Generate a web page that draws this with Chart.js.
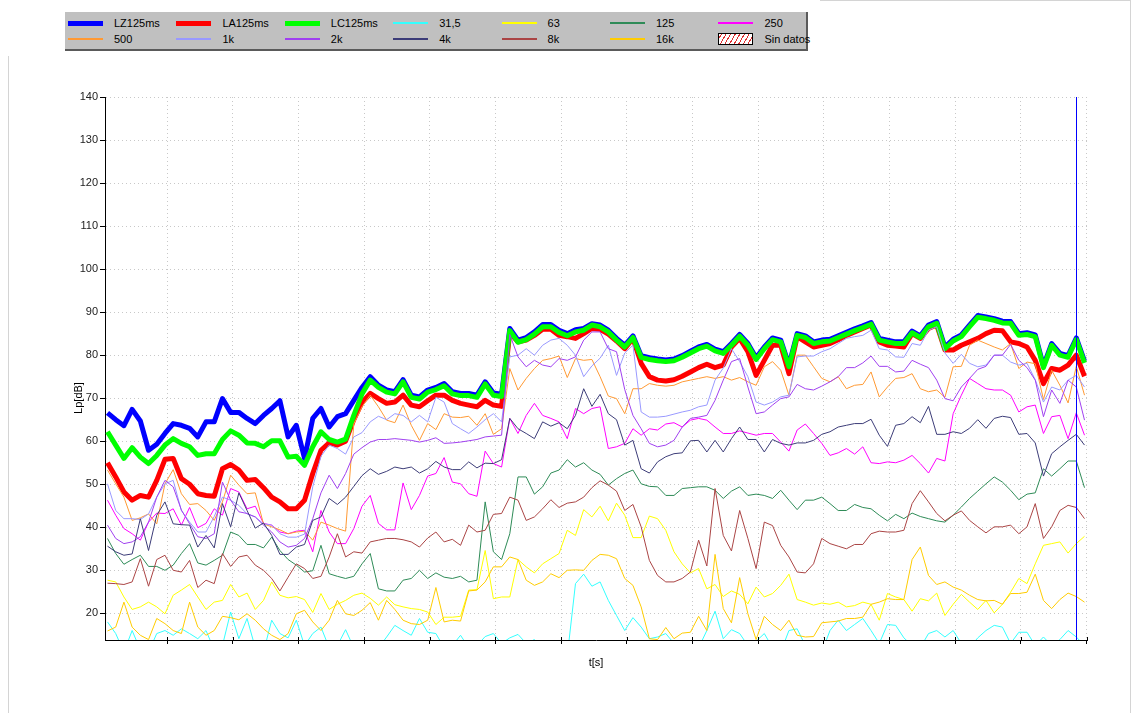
<!DOCTYPE html>
<html>
<head>
<meta charset="utf-8">
<script src="https://cdn.jsdelivr.net/npm/chart.js@4.4.0/dist/chart.umd.min.js"></script>
<style>
  html, body { margin: 0; padding: 0; background: #fff; }
  #wrap { position: relative; width: 1131px; height: 713px; overflow: hidden; }
  #chart { position: absolute; left: 0; top: 0; }
  #frame {
    position: absolute; left: 8px; top: 0; width: 1121px; height: 740px;
    border-left: 1px solid #d4d4d4; border-right: 1px solid #d4d4d4; border-top: 1px solid #d4d4d4;
  }
  #legend {
    position: absolute; left: 65px; top: 12px; width: 741px; height: 37px;
    background: #c0c0c0; border-right: 2px solid #5a5a5a; border-bottom: 2px solid #5a5a5a;
    font: 11px "Liberation Sans", Arial, sans-serif; color: #000;
  }
  #legendBack { position: absolute; left: 0; top: 0; width: 820px; height: 56px; background: #fff; }
  .item { position: absolute; height: 14px; width: 105px; }
  .sw { position: absolute; left: 0; width: 35px; }
  .lbl { position: absolute; left: 46px; top: 0; line-height: 14px; white-space: nowrap; }
  .nodata {
    position: absolute; left: 0; top: 1px; width: 33px; height: 10px; border: 1px solid #000;
    background: repeating-linear-gradient(-60deg, #fff 0 3px, #e03030 3px 4px);
  }
</style>
</head>
<body>
<div id="wrap">
  <canvas id="chart" width="1131" height="713"></canvas>
  <div id="frame"></div>
  <div id="legendBack"></div>
  <div id="legend"></div>
</div>
<script>
// 125 ms samples, levels in dB
const SAMPLE_S = 0.125;
const cursorIndex = 118;

const lz = [66.6, 65.0, 63.6, 67.4, 64.7, 57.9, 59.3, 61.8, 64.1, 63.7, 63.0, 61.0, 64.5, 64.5, 69.9, 66.7, 66.7, 65.3, 64.1, 66.0, 67.6, 69.4, 61.0, 63.7, 56.0, 65.3, 67.6, 63.3, 65.7, 66.4,
  69.5, 72.5, 75.0, 73.0, 71.9, 71.5, 74.3, 70.7, 70.3, 71.9, 72.5, 73.4, 71.5, 71.1, 71.1, 70.7, 73.8, 71.2, 70.9,
  86.2, 83.5, 84.1, 85.4, 87.1, 87.1, 85.8, 85.0, 85.9, 86.2, 87.3, 87.0,
  85.8, 83.9, 82.3, 84.5, 79.9, 79.4, 79.1, 78.9, 79.1, 79.9, 80.9, 81.9, 82.5, 81.4, 80.8, 82.7, 84.8, 82.7, 79.4, 81.9, 84.0, 83.5, 77.7, 85.0, 84.5, 83.1, 83.5, 83.7, 84.5,
  85.3, 86.1, 86.8, 87.6, 83.9, 83.5, 83.1, 83.1, 85.6, 84.5, 87.0, 87.8, 81.9, 83.7, 84.7, 87.0, 89.2, 88.9, 88.5, 87.9, 87.8, 85.0, 85.2, 84.7, 77.5, 82.7, 80.4, 79.9, 84.0, 78.6];

const la = [55.0, 51.7, 48.2, 46.3, 47.4, 47.0, 50.9, 55.8, 56.0, 51.3, 50.0, 47.8, 47.4, 47.2, 53.6, 54.6, 53.3, 50.9, 51.1, 49.2, 47.0, 45.9, 44.3, 44.3, 46.3, 52.5, 57.9, 59.6, 59.1, 60.0,
  65.0, 69.0, 71.1, 69.9, 68.8, 69.1, 70.7, 68.4, 68.0, 69.4, 70.7, 70.7, 69.5, 68.8, 68.4, 68.0, 69.5, 68.4, 68.1,
  85.2, 83.1, 83.5, 84.6, 86.0, 86.0, 84.6, 84.3, 83.9,
  85.0, 86.2, 86.0, 84.9, 83.3, 81.5, 83.9, 78.1, 75.0, 74.2, 74.0, 74.3, 75.1, 76.1, 77.1, 77.9, 77.1, 77.7, 81.9, 83.9, 80.8, 75.3, 78.8, 82.3, 82.3, 75.7, 84.3, 83.1, 81.9, 82.3, 82.7, 83.6,
  84.6, 85.4, 86.2, 87.0, 83.1, 82.3, 82.1, 81.9, 85.0, 83.9, 86.2, 87.0, 81.2, 81.2, 82.3, 83.1, 83.9, 85.0, 85.8, 85.7, 83.1, 82.7, 81.9, 78.8, 73.4, 76.9, 76.5, 77.7, 80.0, 75.1];

const lc = [62.2, 59.1, 56.0, 58.5, 56.3, 54.8, 56.7, 59.1, 60.6, 59.5, 58.7, 56.7, 57.1, 57.1, 60.4, 62.4, 61.4, 59.6, 59.5, 58.7, 60.1, 60.1, 56.3, 56.5, 54.4, 58.7, 62.2, 60.4, 59.8, 60.5,
  66.0, 71.0, 74.2, 72.5, 71.4, 71.0, 73.8, 70.2, 69.8, 71.4, 72.0, 72.9, 71.0, 70.6, 70.6, 70.2, 73.3, 70.7, 70.4,
  85.7, 83.0, 83.6, 84.9, 86.6, 86.6, 85.3, 84.5, 85.4, 85.8, 87.0, 86.6,
  85.4, 83.5, 81.9, 84.1, 79.5, 79.0, 78.7, 78.5, 78.7, 79.5, 80.5, 81.5, 82.1, 81.0, 80.4, 82.3, 84.4, 82.3, 79.0, 81.5, 83.6, 83.1, 77.3, 84.6, 84.1, 82.7, 83.1, 83.3, 84.1,
  84.9, 85.7, 86.4, 87.2, 83.5, 83.1, 82.7, 82.7, 85.2, 84.1, 86.6, 87.4, 81.5, 83.3, 84.3, 86.6, 88.8, 88.5, 88.1, 87.5, 87.4, 84.6, 84.8, 84.3, 77.1, 82.3, 80.0, 79.5, 83.6, 78.2];

const b31_5 = [18.0, 15.3, 11.0, 16.0, 11.5, 11.0, 15.3, 16.0, 14.9, 16.4, 15.3, 14.1, 16.0, 11.5, 12.5, 20.3, 14.1, 18.8, 12.0, 11.0, 18.4, 15.3, 14.3, 18.4, 12.5, 15.3, 16.8, 12.0, 12.5, 16.2,
  12.0, 11.5, 11.5, 12.0, 14.5, 17.2, 16.0, 14.9, 18.8, 15.6, 15.3, 12.0, 12.5, 14.9, 12.0, 12.5, 14.6, 15.3, 13.0, 14.3, 15.1, 13.0, 13.9, 11.0, 10.0, 10.0, 10.0, 26.9, 29.1, 26.3,
  27.3, 23.0, 19.5, 16.0, 19.0, 16.8, 14.1, 14.5, 15.3, 13.0, 11.5, 11.0, 12.0, 16.0, 20.5, 14.1, 16.2, 15.3, 12.5, 13.5, 15.3, 12.0, 11.0, 16.0, 16.4, 12.5, 11.5, 11.0, 16.0, 18.4,
  16.0, 17.4, 18.8, 16.0, 13.0, 17.4, 17.2, 14.3, 12.5, 12.0, 15.3, 16.0, 14.5, 16.0, 13.0, 12.0, 14.3, 16.0, 17.2, 16.8, 13.0, 15.6, 15.6, 12.5, 14.5, 12.5, 13.9, 16.0, 14.5, 12.5];

const b63 = [27.7, 27.3, 23.8, 20.9, 21.5, 22.6, 21.5, 19.9, 24.2, 25.4, 26.7, 23.8, 20.9, 22.6, 23.0, 26.7, 23.8, 24.7, 20.9, 23.0, 27.3, 24.2, 23.6, 23.9, 23.2, 20.2, 24.6, 20.9, 22.1, 23.0,
  24.2, 24.7, 23.5, 21.9, 23.8, 22.0, 21.5, 21.1, 20.9, 20.3, 17.4, 19.1, 19.1, 19.3, 25.4, 25.5, 34.6, 23.4, 23.8, 23.8, 32.5, 30.8, 29.4, 31.5, 32.7, 33.9, 39.3, 38.1, 44.1, 42.4,
  44.9, 41.5, 45.6, 42.8, 37.6, 37.6, 42.6, 42.0, 39.3, 34.3, 31.5, 29.4, 30.4, 25.7, 26.7, 23.9, 25.2, 24.4, 22.2, 26.1, 23.8, 24.6, 26.5, 29.1, 23.2, 22.6, 21.9, 22.4, 22.1, 22.6,
  21.5, 21.8, 22.6, 22.1, 18.4, 24.6, 23.8, 23.2, 20.5, 23.4, 22.9, 24.7, 19.5, 22.1, 24.4, 22.6, 20.9, 23.0, 20.1, 22.1, 24.9, 28.1, 26.9, 31.5, 35.8, 36.2, 36.6, 34.0, 36.2, 37.9];

const b125 = [37.4, 33.9, 31.4, 32.5, 33.5, 30.9, 30.9, 30.0, 31.2, 33.9, 36.2, 31.7, 31.2, 32.3, 33.5, 38.9, 38.1, 36.0, 36.0, 35.2, 37.7, 34.6, 32.5, 31.2, 29.6, 29.9, 35.8, 29.2, 28.6, 28.1,
  28.6, 31.5, 33.9, 25.7, 25.2, 25.2, 27.7, 28.1, 30.0, 28.1, 29.4, 28.4, 28.1, 28.6, 27.3, 27.7, 45.9, 34.3, 32.5, 38.5, 51.7, 51.7, 47.7, 49.4, 52.6, 53.3, 55.7, 54.0, 55.0, 53.3,
  52.3, 49.8, 51.3, 52.5, 53.3, 50.1, 49.5, 49.4, 47.4, 47.4, 49.0, 49.2, 49.4, 49.4, 48.6, 46.7, 48.4, 49.4, 47.4, 47.7, 47.4, 46.7, 48.6, 46.3, 44.1, 46.3, 46.3, 47.0, 45.5, 43.9,
  43.9, 45.3, 44.6, 44.3, 42.8, 41.5, 43.0, 42.0, 43.3, 42.5, 42.0, 41.5, 41.2, 42.8, 44.7, 46.7, 48.4, 50.1, 51.7, 50.5, 48.6, 46.4, 47.7, 48.0, 53.6, 51.9, 53.6, 55.4, 55.4, 49.2];

const b250 = [46.3, 42.8, 39.7, 38.5, 37.0, 41.2, 43.3, 43.2, 44.3, 40.5, 44.6, 39.9, 40.9, 44.3, 42.8, 49.0, 48.2, 44.3, 44.9, 40.9, 40.5, 38.9, 38.5, 39.1, 39.3, 34.3, 43.9, 38.9, 36.2, 36.2,
  39.7, 44.9, 47.4, 40.9, 39.4, 39.4, 50.3, 44.1, 47.4, 51.9, 52.5, 56.2, 50.5, 50.1, 47.8, 47.2, 57.7, 54.8, 54.0, 65.3, 61.8, 66.0, 68.8, 66.0, 65.3, 64.5, 60.6, 67.6, 66.4, 67.6,
  68.0, 58.3, 58.7, 59.5, 62.9, 61.4, 62.9, 62.6, 64.0, 64.3, 63.3, 64.9, 65.3, 64.9, 63.3, 61.8, 61.8, 62.4, 61.9, 61.4, 61.8, 61.8, 59.8, 57.7, 62.6, 64.0, 61.8, 59.5, 56.7, 57.3,
  58.3, 57.0, 58.7, 55.0, 54.8, 55.2, 55.0, 55.6, 56.7, 54.8, 52.6, 56.0, 55.4, 66.4, 70.7, 74.6, 73.4, 72.2, 71.9, 71.9, 70.7, 66.8, 68.0, 68.4, 61.8, 65.7, 66.0, 60.6, 66.6, 61.4];

const b500 = [53.3, 50.1, 47.0, 41.6, 42.2, 43.1, 40.8, 50.1, 53.4, 47.8, 45.3, 45.5, 43.9, 41.6, 45.9, 52.1, 49.8, 47.8, 48.0, 40.8, 40.1, 39.4, 38.5, 38.9, 39.1, 37.0, 41.2, 40.5, 39.7, 39.1,
  64.0, 68.0, 70.7, 68.0, 64.9, 64.3, 68.4, 63.7, 60.2, 64.1, 62.7, 66.4, 65.6, 65.5, 65.8, 63.7, 66.4, 61.6, 62.9, 76.9, 71.9, 74.6, 76.9, 78.8, 79.2, 79.8, 74.8, 79.2, 78.8, 79.0, 75.0,
  70.5, 69.9, 66.4, 72.2, 72.2, 73.4, 73.0, 72.8, 73.0, 73.8, 74.2, 74.6, 75.0, 74.6, 75.0, 74.2, 74.8, 73.8, 73.0, 77.3, 78.5, 76.5, 70.7, 80.0, 80.0, 77.3, 74.6, 73.8, 75.0,
  72.2, 73.0, 73.2, 76.1, 70.3, 72.6, 74.6, 74.8, 75.7, 72.2, 71.5, 71.9, 70.2, 77.3, 77.4, 82.3, 83.5, 82.7, 81.9, 81.2, 82.7, 76.9, 78.4, 78.0, 69.7, 76.5, 73.0, 68.9, 77.4, 70.7];

const b1k = [50.1, 43.9, 42.0, 42.0, 41.8, 43.1, 47.0, 50.1, 50.9, 43.9, 41.2, 38.9, 38.9, 42.5, 47.0, 46.3, 45.1, 43.1, 42.4, 40.8, 40.5, 38.5, 37.7, 37.7, 38.4, 49.4, 56.5, 59.1, 58.3, 57.0,
  61.0, 62.0, 64.5, 65.8, 65.0, 66.4, 66.0, 64.5, 66.0, 64.5, 70.2, 69.1, 64.1, 62.9, 61.8, 63.3, 65.0, 66.4, 64.5, 79.6, 80.0, 81.5, 80.0, 82.3, 83.5, 83.9, 82.3, 80.0, 75.0, 77.5, 79.3,
  82.3, 75.3, 80.5, 82.3, 66.8, 65.6, 65.6, 65.8, 66.3, 66.8, 67.2, 68.0, 68.4, 74.2, 77.0, 81.5, 78.5, 75.0, 69.1, 68.4, 69.1, 70.3, 70.7, 79.6, 79.8, 79.8, 80.8, 81.5, 82.7,
  83.9, 84.3, 84.6, 85.8, 81.5, 81.2, 79.6, 79.5, 82.7, 82.3, 85.8, 86.6, 80.5, 78.1, 80.2, 78.1, 77.3, 77.7, 80.0, 80.0, 78.4, 77.7, 78.1, 74.3, 69.1, 72.6, 71.9, 74.2, 75.3, 72.6];

const b2k = [40.5, 37.4, 36.2, 36.6, 37.8, 41.2, 47.0, 50.9, 49.4, 44.0, 40.8, 37.8, 37.4, 38.5, 50.5, 46.3, 43.6, 43.2, 42.4, 40.5, 38.9, 36.6, 35.4, 35.8, 37.4, 42.0, 48.0, 52.1, 49.0, 52.5,
  57.0, 58.5, 59.8, 60.4, 60.4, 60.6, 60.4, 60.2, 59.8, 60.2, 60.8, 59.5, 59.6, 59.8, 60.1, 60.4, 61.0, 61.2, 61.4, 84.8, 79.6, 77.3, 78.8, 77.7, 77.3, 79.2, 78.8, 79.6, 83.5, 85.4, 85.4,
  81.5, 80.8, 72.0, 66.0, 62.9, 59.5, 58.7, 59.1, 60.2, 63.3, 65.3, 65.6, 66.0, 69.5, 74.2, 78.5, 79.2, 72.6, 66.4, 66.8, 68.4, 69.9, 70.3, 73.2, 72.2, 71.9, 72.8, 73.8, 75.0,
  77.1, 77.1, 78.2, 79.8, 77.4, 77.4, 76.1, 76.3, 78.8, 77.9, 77.1, 74.2, 69.9, 69.4, 72.6, 74.6, 76.7, 77.4, 80.0, 80.0, 82.5, 78.8, 77.1, 74.2, 65.7, 71.9, 68.8, 74.2, 72.6, 64.9];

const b4k = [35.6, 34.3, 33.5, 33.8, 42.0, 34.6, 42.8, 45.9, 40.8, 40.6, 40.5, 35.4, 38.1, 35.2, 45.5, 40.1, 48.0, 43.9, 39.8, 41.0, 38.1, 33.7, 33.7, 35.4, 36.0, 41.6, 42.4, 46.7, 45.3, 47.0,
  49.5, 52.0, 53.6, 52.3, 53.0, 54.0, 53.6, 54.0, 52.6, 53.6, 55.3, 54.0, 53.4, 53.4, 55.2, 53.8, 54.9, 54.8, 55.7, 65.3, 62.9, 61.8, 60.6, 64.5, 63.5, 64.3, 62.9, 66.0, 72.2, 68.1, 70.9,
  66.4, 65.0, 59.1, 60.2, 53.6, 52.6, 55.2, 56.4, 57.1, 57.3, 60.1, 60.2, 57.5, 60.2, 57.5, 60.6, 63.3, 60.4, 60.4, 57.5, 60.4, 59.5, 59.1, 59.6, 59.6, 60.2, 61.6, 62.2, 63.3,
  63.7, 64.1, 64.1, 65.1, 61.4, 58.8, 63.7, 64.1, 65.7, 64.3, 68.1, 61.6, 61.6, 62.2, 61.8, 63.0, 65.0, 63.0, 65.3, 65.8, 65.5, 61.6, 61.8, 59.6, 51.9, 57.1, 58.7, 60.2, 61.6, 59.1];

const b8k = [27.0, 26.9, 26.7, 27.3, 32.7, 26.3, 32.5, 33.5, 30.0, 29.6, 32.3, 26.0, 27.7, 26.9, 33.9, 30.9, 33.1, 33.5, 31.2, 30.0, 28.1, 25.2, 28.4, 31.5, 30.4, 28.1, 28.6, 33.1, 38.5, 33.1,
  34.3, 34.0, 36.6, 37.0, 37.4, 37.4, 37.1, 36.6, 35.4, 37.5, 38.9, 36.6, 37.2, 35.8, 40.5, 38.9, 39.3, 43.0, 43.2, 47.0, 46.3, 41.6, 42.4, 44.3, 46.4, 44.6, 45.6, 45.9, 47.0, 49.2,
  50.8, 49.8, 48.4, 43.9, 45.3, 40.1, 32.3, 28.8, 27.3, 27.3, 28.1, 29.6, 37.0, 31.0, 49.0, 38.1, 34.5, 43.9, 37.4, 30.4, 41.2, 40.4, 35.8, 33.1, 29.6, 29.4, 31.5, 37.4, 36.2, 35.6,
  35.0, 36.0, 36.0, 38.5, 39.1, 38.9, 38.9, 39.3, 45.5, 48.5, 45.9, 43.2, 41.5, 42.8, 43.8, 41.6, 40.1, 38.7, 40.1, 40.1, 40.5, 38.5, 40.1, 45.5, 37.4, 40.1, 43.9, 45.1, 44.6, 42.0];

const b16k = [15.9, 16.8, 22.6, 16.8, 14.9, 13.9, 18.8, 17.6, 16.0, 15.3, 22.6, 16.8, 14.9, 16.0, 19.3, 19.0, 18.5, 19.9, 18.4, 16.4, 14.9, 13.9, 15.3, 19.9, 20.7, 18.0, 16.0, 18.4, 23.0, 19.9,
  19.5, 20.7, 22.5, 18.4, 23.0, 20.9, 18.4, 17.6, 17.4, 18.4, 26.0, 18.0, 18.4, 18.2, 25.2, 25.4, 27.3, 30.8, 30.8, 33.1, 32.5, 27.7, 26.5, 27.3, 29.2, 28.3, 30.0, 30.1, 30.0, 32.3,
  33.7, 33.5, 32.7, 28.1, 26.5, 21.5, 14.1, 13.9, 16.7, 14.1, 15.4, 15.6, 19.3, 16.0, 33.7, 21.1, 17.8, 28.3, 19.9, 13.9, 19.3, 17.4, 16.0, 18.4, 14.9, 14.5, 14.6, 17.8, 18.0, 18.2,
  18.8, 18.8, 19.1, 22.1, 22.6, 23.4, 23.2, 23.2, 32.5, 35.4, 28.8, 26.7, 27.3, 26.1, 25.4, 24.2, 23.2, 22.9, 23.0, 22.1, 24.6, 24.6, 24.9, 29.1, 23.0, 21.1, 23.2, 24.7, 23.9, 22.6];

const yTicks = [20, 30, 40, 50, 60, 70, 80, 90, 100, 110, 120, 130, 140];

const SERIES = [
  { label: 'LZ125ms', values: lz, color: '#0000ff', width: 5 },
  { label: 'LA125ms', values: la, color: '#ff0000', width: 5 },
  { label: 'LC125ms', values: lc, color: '#00ff00', width: 5 },
  { label: '31,5', values: b31_5, color: '#33ffff', width: 1 },
  { label: '63', values: b63, color: '#ffff00', width: 1 },
  { label: '125', values: b125, color: '#2e8b57', width: 1 },
  { label: '250', values: b250, color: '#ff00ff', width: 1 },
  { label: '500', values: b500, color: '#ff9933', width: 1 },
  { label: '1k', values: b1k, color: '#9999ff', width: 1 },
  { label: '2k', values: b2k, color: '#a040f0', width: 1 },
  { label: '4k', values: b4k, color: '#3c3c78', width: 1 },
  { label: '8k', values: b8k, color: '#aa4444', width: 1 },
  { label: '16k', values: b16k, color: '#ffcc00', width: 1 }
];

// x axis in seconds; one tick per second
const X_MIN = -0.038, X_MAX = 14.913, X_FIRST_TICK = 0.906;
const xTicks = [];
for (let k = 0; X_FIRST_TICK + k <= X_MAX + 0.01; k++) xTicks.push(X_FIRST_TICK + k);

const datasets = SERIES.map((s, idx) => ({
  label: s.label,
  data: s.values.map((v, i) => ({ x: i * SAMPLE_S, y: v })),
  borderColor: s.color,
  backgroundColor: s.color,
  borderWidth: s.width,
  borderJoinStyle: 'round',
  pointRadius: 0,
  tension: 0,
  fill: false,
  order: SERIES.length - idx   // legend order = drawing order
}));

const FONT = '"Liberation Sans", Arial, sans-serif';

const overlay = {
  id: 'overlay',
  afterDatasetsDraw(chart) {
    const { ctx, chartArea, scales } = chart;
    const cx = Math.round(scales.x.getPixelForValue(cursorIndex * SAMPLE_S)) + 0.5;
    ctx.save();
    ctx.strokeStyle = '#0000ff';
    ctx.lineWidth = 1;
    ctx.beginPath();
    ctx.moveTo(cx, chartArea.top);
    ctx.lineTo(cx, chartArea.bottom);
    ctx.stroke();

    // small tick marks crossing the x axis
    ctx.strokeStyle = '#000';
    xTicks.forEach(v => {
      const tx = Math.round(scales.x.getPixelForValue(v)) + 0.5;
      ctx.beginPath();
      ctx.moveTo(tx, chartArea.bottom - 3);
      ctx.lineTo(tx, chartArea.bottom);
      ctx.stroke();
    });

    ctx.fillStyle = '#000';
    ctx.font = '11px ' + FONT;
    ctx.textAlign = 'center';
    ctx.textBaseline = 'middle';
    ctx.fillText('t[s]', (chartArea.left + chartArea.right) / 2, 663);
    ctx.translate(79, 398);
    ctx.rotate(-Math.PI / 2);
    ctx.fillText('Lp[dB]', 0, 0);
    ctx.restore();
  }
};

new Chart(document.getElementById('chart').getContext('2d'), {
  type: 'line',
  data: { datasets },
  options: {
    responsive: false,
    animation: false,
    devicePixelRatio: 1,
    layout: { padding: { left: 0, top: 97, right: 44, bottom: 0 } },
    plugins: { legend: { display: false }, tooltip: { enabled: false } },
    scales: {
      x: {
        type: 'linear', min: X_MIN, max: X_MAX,
        afterBuildTicks: s => { s.ticks = xTicks.map(v => ({ value: v })); },
        afterFit: s => { s.height = 73; },
        ticks: { display: false },
        grid: { color: '#c8c8c8', tickColor: '#000', tickLength: 4 },
        border: { display: true, color: '#000', width: 1, dash: [1, 3] }
      },
      y: {
        type: 'linear', min: 13.8, max: 140,
        afterBuildTicks: s => { s.ticks = yTicks.map(v => ({ value: v })); },
        afterFit: s => { s.width = 105; },
        ticks: { color: '#222', padding: 2, font: { size: 11, family: FONT } },
        grid: { color: '#c8c8c8', tickColor: '#000', tickLength: 5 },
        border: { display: true, color: '#000', width: 1, dash: [1, 3] }
      }
    }
  },
  plugins: [overlay]
});

// legend: 7 columns x 2 rows, plus the "Sin datos" entry
const legend = document.getElementById('legend');
const entries = SERIES.map(s => ({ label: s.label, color: s.color, thick: s.width > 1 }));
entries.push({ label: 'Sin datos', nodata: true });
entries.forEach((e, k) => {
  const col = k % 7, row = Math.floor(k / 7);
  const item = document.createElement('div');
  item.className = 'item';
  item.style.left = (3 + col * 108.4) + 'px';
  item.style.top = (4 + row * 16) + 'px';
  if (e.nodata) {
    const box = document.createElement('div');
    box.className = 'nodata';
    item.appendChild(box);
  } else {
    const sw = document.createElement('div');
    sw.className = 'sw';
    const h = e.thick ? 5 : 2;
    sw.style.height = h + 'px';
    sw.style.top = (7 - Math.floor(h / 2)) + 'px';
    sw.style.background = e.color;
    item.appendChild(sw);
  }
  const lbl = document.createElement('span');
  lbl.className = 'lbl';
  lbl.textContent = e.label;
  item.appendChild(lbl);
  legend.appendChild(item);
});
</script>
</body>
</html>
